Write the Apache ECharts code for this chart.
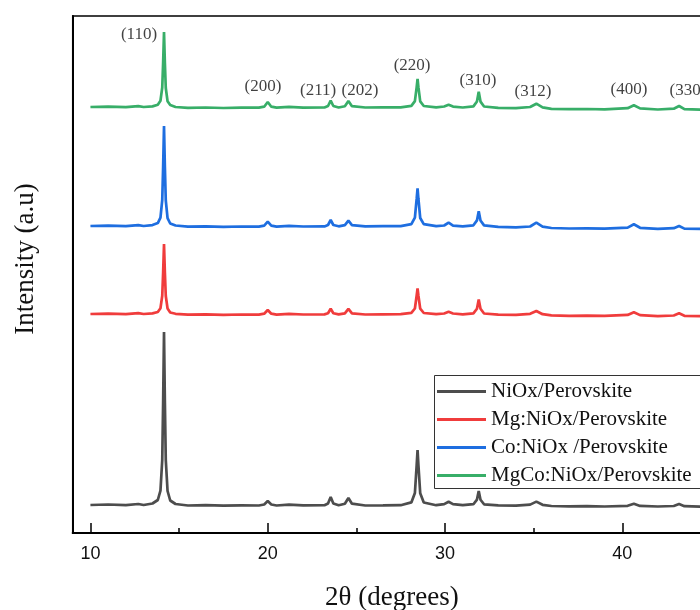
<!DOCTYPE html>
<html>
<head>
<meta charset="utf-8">
<script src="https://cdn.jsdelivr.net/npm/echarts@6/dist/echarts.min.js"></script>
<style>
html,body{margin:0;padding:0;background:#fff;}
#chart{width:700px;height:610px;}
</style>
</head>
<body>
<div id="chart"></div>
<script>
// 2θ sample positions (degrees)
const twoTheta = [
  10, 11, 12, 12.7, 13, 13.5, 13.8, 13.95, 14.05, 14.1,
  14.15, 14.2, 14.25, 14.35, 14.5, 14.8, 15.5, 16.5, 17.5, 18.5,
  19.5, 19.8, 20.0, 20.2, 20.5, 21.2, 22, 23.2, 23.4, 23.55,
  23.7, 24.0, 24.35, 24.55, 24.75, 25.5, 26.5, 27.5, 28.1, 28.3,
  28.4, 28.45, 28.5, 28.6, 28.8, 29.5, 29.95, 30.2, 30.45, 31.0,
  31.6, 31.8, 31.9, 32.0, 32.2, 33, 34, 34.8, 35.15, 35.5,
  36, 37, 38, 39, 40.3, 40.65, 41.0, 42, 42.9, 43.2,
  43.5, 45, 47, 50
];
// Intensities (a.u., offset patterns)
const niox = [
  28, 28.5, 27.8, 29, 28, 29.5, 33, 42.4, 73, 130,
  201, 130, 73, 42, 32.5, 29, 27.5, 27.8, 27.3, 27.6,
  27.5, 28.5, 32, 28.5, 27.5, 28.3, 27.6, 27.8, 29.5, 36,
  29.5, 27.8, 29.3, 35, 29.3, 27.5, 27.6, 27.8, 30.6, 40,
  67.8, 83, 67.5, 39.7, 30.5, 27.8, 28.9, 31.3, 28.9, 27.8,
  28.8, 33.4, 42, 33.3, 28.7, 27.6, 27.4, 28.4, 31.4, 28.2,
  27, 26.6, 26.8, 26.5, 27.2, 29.3, 27.1, 26.5, 27, 29,
  26.8, 26.2, 26, 25.8
];
const mgNiox = [
  219, 219.4, 218.8, 219.8, 219, 219.6, 221, 224.8, 237.2, 260.3,
  289, 260, 237, 224.5, 220.5, 219.2, 218.3, 218.6, 218.2, 218.5,
  218.4, 219.3, 223, 219.3, 218.4, 219.2, 218.5, 218.6, 219.7, 224.2,
  219.7, 218.6, 219.7, 224.2, 219.7, 218.5, 218.7, 218.8, 220.1, 224.5,
  237.5, 244.7, 237.3, 224.3, 220, 218.8, 219.5, 221.2, 219.5, 218.6,
  219.6, 224.3, 233.6, 224.2, 219.5, 218.3, 218.2, 219.2, 222, 218.8,
  217.6, 217.2, 217.4, 217.1, 218.1, 220.8, 217.9, 216.9, 217.5, 219.7,
  217.2, 216.5, 216.3, 216.1
];
const coNiox = [
  307, 307.4, 306.8, 307.8, 307, 307.9, 309.9, 315.3, 333, 366,
  407, 365.5, 332.5, 314.8, 309.5, 307.5, 306.3, 306.6, 306.2, 306.5,
  306.4, 307.4, 311.3, 307.4, 306.4, 307.2, 306.5, 306.6, 308, 313,
  308, 306.7, 307.9, 312.3, 307.9, 306.6, 306.8, 306.9, 308.8, 315.3,
  334.3, 344.7, 334, 315, 308.8, 306.9, 307.5, 310.3, 307.4, 306.7,
  307.7, 312.6, 321.7, 312.5, 307.6, 306.2, 305.6, 306.5, 310.3, 306.4,
  305, 304.5, 304.6, 304.3, 305.4, 308.7, 305.2, 304.1, 304.8, 307,
  304.4, 303.8, 303.6, 303.4
];
const mgcoNiox = [
  426, 426.4, 425.8, 426.9, 426, 426.6, 428.2, 432.2, 445.5, 470,
  501, 469.5, 445, 431.8, 428, 426, 425.2, 425.5, 425, 425.4,
  425.3, 426.3, 431, 426.3, 425.3, 426.1, 425.4, 425.5, 427, 432.3,
  427, 425.5, 426.8, 432, 426.8, 425.5, 425.6, 425.7, 427.1, 431.9,
  445.9, 454, 445.6, 431.6, 427, 425.7, 426.5, 428.3, 426.4, 425.5,
  426.6, 431.5, 441.3, 431.4, 426.5, 425.1, 424.8, 426, 429.3, 425.6,
  424.2, 423.8, 424, 423.7, 424.8, 427.7, 424.6, 423.5, 424.3, 427,
  423.8, 423.2, 423, 422.8
];
const seriesNames = ['NiOx/Perovskite', 'Mg:NiOx/Perovskite', 'Co:NiOx /Perovskite', 'MgCo:NiOx/Perovskite'];
const seriesColors = ['#4d4d4d', '#f03c3c', '#1e6ee0', '#38ae68'];
// Miller index annotations
const hklLabels = ['(110)', '(200)', '(211)', '(202)', '(220)', '(310)', '(312)', '(400)', '(330)'];
const hklX = [12.74, 19.73, 22.84, 25.2, 28.14, 31.86, 34.96, 40.37, 43.7];
const hklY = [498, 446, 442, 442, 467, 452, 441, 443, 442];
// Axis ticks
const majorTicks = [10, 20, 30, 40];
const minorTicks = [15, 25, 35];

const allY = [niox, mgNiox, coNiox, mgcoNiox];
const lineSeries = allY.map((ys, k) => ({
  name: seriesNames[k],
  type: 'line',
  xAxisIndex: 0,
  data: twoTheta.map((x, i) => [x, ys[i]]),
  symbol: 'none',
  showSymbol: false,
  smooth: false,
  color: seriesColors[k],
  lineStyle: { width: 2.7, color: seriesColors[k] },
  z: 3
}));

const labelSeries = {
  name: 'hkl',
  type: 'scatter',
  xAxisIndex: 0,
  symbolSize: 0,
  silent: true,
  data: hklLabels.map((t, i) => ({ name: t, value: [hklX[i], hklY[i]] })),
  label: {
    show: true, position: 'inside', formatter: '{b}',
    fontFamily: 'Liberation Serif', fontSize: 17, color: '#111'
  },
  z: 4
};

const chart = echarts.init(document.getElementById('chart'), null, { renderer: 'canvas' });
const axisBase = {
  type: 'value', min: 9, max: 45,
  splitLine: { show: false }
};
chart.setOption({
  animation: false,
  backgroundColor: '#fff',
  grid: {
    left: 72.7, right: -11, top: 16, bottom: 77,
    show: true, borderColor: '#000', borderWidth: 1.5,
    containLabel: false, outerBoundsMode: 'none'
  },
  graphic: [{
    type: 'rect',
    z: 10,
    silent: true,
    shape: { x: 434.5, y: 375.5, width: 400, height: 113 },
    style: { fill: '#fff', stroke: '#333', lineWidth: 1 }
  }],
  legend: {
    data: seriesNames,
    orient: 'vertical',
    left: 434, top: 375,
    padding: [6, 0, 5, 3],
    icon: 'rect',
    itemWidth: 49, itemHeight: 3, itemGap: 7,
    z: 20,
    textStyle: { fontFamily: 'Liberation Serif', fontSize: 21, lineHeight: 20, color: '#111' }
  },
  xAxis: [
    Object.assign({}, axisBase, {
      position: 'bottom',
      name: '2θ (degrees)',
      nameLocation: 'middle',
      nameGap: 51,
      nameTextStyle: { fontFamily: 'Liberation Serif', fontSize: 27, color: '#111' },
      axisLine: { show: true, lineStyle: { color: '#000', width: 2 } },
      axisTick: { show: true, inside: true, length: 10, customValues: majorTicks, lineStyle: { color: '#000', width: 1.5 } },
      axisLabel: { show: true, customValues: majorTicks, margin: 12, fontFamily: 'Liberation Sans', fontSize: 18, color: '#111' },
      minorTick: { show: false }
    }),
    Object.assign({}, axisBase, {
      position: 'bottom',
      axisLine: { show: false },
      axisTick: { show: true, inside: true, length: 5, customValues: minorTicks, lineStyle: { color: '#000', width: 1.5 } },
      axisLabel: { show: false }
    })
  ],
  yAxis: {
    type: 'value', min: 0, max: 517,
    name: 'Intensity (a.u)',
    nameLocation: 'middle',
    nameGap: 33,
    nameTextStyle: { fontFamily: 'Liberation Serif', fontSize: 27, color: '#111', padding: [0, 0, 0, 31] },
    axisLine: { show: true, lineStyle: { color: '#000', width: 2 } },
    axisTick: { show: false },
    axisLabel: { show: false },
    splitLine: { show: false }
  },
  series: lineSeries.concat([labelSeries])
});
</script>
</body>
</html>
